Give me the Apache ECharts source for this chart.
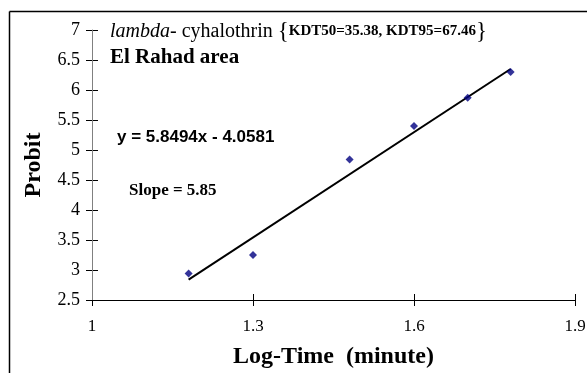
<!DOCTYPE html>
<html>
<head>
<meta charset="utf-8">
<script src="https://cdn.jsdelivr.net/npm/echarts@6/dist/echarts.min.js"></script>
<style>
html,body{margin:0;padding:0;background:#fff;}
#c{width:587px;height:373px;}
</style>
</head>
<body>
<div id="c"></div>
<script>
// Data
const logTime = [1.18, 1.30, 1.48, 1.60, 1.70, 1.78];
const probit  = [2.94, 3.25, 4.84, 5.40, 5.87, 6.30];
// Regression line end points (y = 5.8494x - 4.0581)
const fitX = [1.18, 1.78];
const fitY = [2.84, 6.35];
const xTicks = [1, 1.3, 1.6, 1.9];
const yTicks = [2.5, 3, 3.5, 4, 4.5, 5, 5.5, 6, 6.5, 7];

const serif = 'Liberation Serif';
const sans = 'Liberation Sans';

const G = {left: 92, right: 12, top: 30, bottom: 73};
const W = 587 - G.left - G.right;
const H = 373 - G.top - G.bottom;
const TL = 6; // tick half-length

const chart = echarts.init(document.getElementById('c'), null, {renderer: 'canvas'});
const fmt = v => String(Math.round(v * 10) / 10);

chart.setOption({
  animation: false,
  backgroundColor: '#fff',
  grid: Object.assign({containLabel: false, outerBoundsMode: 'none'}, G),
  xAxis: {
    type: 'value', min: xTicks[0], max: xTicks[xTicks.length - 1], interval: 0.3,
    position: 'bottom',
    axisLine: {show: true, onZero: false, lineStyle: {color: '#000', width: 1}},
    axisTick: {show: true, inside: false, length: TL, lineStyle: {color: '#000'}},
    axisLabel: {show: true, margin: 18, fontFamily: serif, fontSize: 17, color: '#000', formatter: fmt},
    // inner half of each tick: split line dashed so only its last few pixels show
    splitLine: {show: true, lineStyle: {color: '#000', width: 1, type: [TL, H - TL], dashOffset: TL}},
    name: 'Log-Time  (minute)', nameLocation: 'middle', nameGap: 45,
    nameTextStyle: {fontFamily: serif, fontSize: 24, fontWeight: 'bold', color: '#000'}
  },
  yAxis: {
    type: 'value', min: yTicks[0], max: yTicks[yTicks.length - 1], interval: 0.5,
    position: 'left',
    axisLine: {show: true, onZero: false, lineStyle: {color: '#808080', width: 1}},
    axisTick: {show: true, inside: false, length: TL, lineStyle: {color: '#000'}},
    axisLabel: {show: true, margin: 12, fontFamily: serif, fontSize: 18, color: '#000', formatter: fmt},
    splitLine: {show: true, lineStyle: {color: '#000', width: 1, type: [TL, W + 100], dashOffset: 0}},
    name: 'Probit', nameLocation: 'middle', nameRotate: 90, nameGap: 46,
    nameTextStyle: {fontFamily: serif, fontSize: 24, fontWeight: 'bold', color: '#000'}
  },
  series: [
    {
      type: 'line',
      data: fitX.map((x, i) => [x, fitY[i]]),
      showSymbol: false, symbol: 'none',
      lineStyle: {color: '#000', width: 2},
      z: 2
    },
    {
      type: 'scatter',
      data: logTime.map((x, i) => [x, probit[i]]),
      symbol: 'diamond', symbolSize: 8,
      itemStyle: {color: '#000080'},
      z: 3
    }
  ],
  graphic: [
    {type: 'line', shape: {x1: 9.5, y1: 11.5, x2: 587, y2: 11.5}, style: {stroke: '#000', lineWidth: 1.5}},
    {type: 'line', shape: {x1: 9.5, y1: 11.5, x2: 9.5, y2: 373}, style: {stroke: '#000', lineWidth: 1.5}},
    {
      type: 'text', left: 110, top: 20,
      style: {
        text: '{i|lambda}{n|- cyhalothrin }{{k|KDT50=35.38, KDT95=67.46}}',
        font: 'normal 23px "Liberation Serif"', fill: '#000',
        rich: {
          i: {fontFamily: serif, fontStyle: 'italic', fontSize: 20, color: '#000'},
          n: {fontFamily: serif, fontSize: 20, color: '#000'},
          k: {fontFamily: serif, fontWeight: 'bold', fontSize: 15, color: '#000'}
        }
      }
    },
    {
      type: 'text', left: 110, top: 47,
      style: {text: 'El Rahad area', font: 'bold 21px "Liberation Serif"', fill: '#000'}
    },
    {
      type: 'text', left: 117, top: 129,
      style: {text: 'y = 5.8494x - 4.0581', font: 'bold 17px "Liberation Sans"', fill: '#000'}
    },
    {
      type: 'text', left: 129, top: 182,
      style: {text: 'Slope = 5.85', font: 'bold 17px "Liberation Serif"', fill: '#000'}
    }
  ]
});
</script>
</body>
</html>
